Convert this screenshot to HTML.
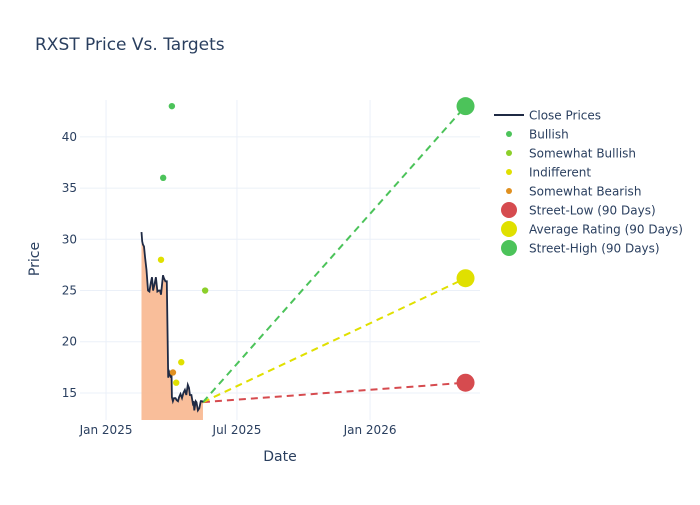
<!DOCTYPE html>
<html><head><meta charset="utf-8"><style>
body{margin:0;background:#fff;}
svg text{font-family:"DejaVu Sans","Liberation Sans",sans-serif;fill:#2a3f5f;}
</style></head><body>
<svg id="chart" width="700" height="500" xmlns="http://www.w3.org/2000/svg">
<rect width="700" height="500" fill="#fff"/>
<text x="35" y="50" font-size="17">RXST Price Vs. Targets</text>
<g id="grid"></g>
<g id="plot"></g>
<g id="axes"></g>
<text transform="translate(39,259) rotate(-90)" text-anchor="middle" font-size="14">Price</text>
<text x="280" y="461" text-anchor="middle" font-size="14">Date</text>
<g id="legend"></g>
</svg>
<script>
// days since 2025-01-01
const priceDays=[49,50,51,52.5,54,56,58,60,62,63.5,65,67,69,71,73,74.6,76,78.8,80,82,84,86,88,89.8,90.5,91,92.5,94,96,97.5,99.5,101,103,105,107,109,111,113,114.7,116,118,120,121,122,124,125,127,129,131,132.6,134];
const priceVals=[30.7,29.8,29.5,29.3,28.2,27,25,24.9,25.8,26.3,25,25.6,26.3,24.9,25,25,24.6,26.5,26.2,25.9,25.9,16.5,17,16.5,17,14.6,14.2,14.5,14.5,14.3,14.2,14.6,14.9,14.5,15,15.3,14.8,15.8,15.5,14.8,14.8,14,14.2,13.3,14.2,14.1,13.3,13.5,14.2,14.2,14.1];
const bullishDays=[91,79]; const bullishVals=[43,36];
const swBullishDays=[137]; const swBullishVals=[25];
const indiffDays=[76,104,97]; const indiffVals=[28,18,16];
const swBearishDays=[92.5]; const swBearishVals=[17];
const targetDay=497;
const targetLow=16, targetAvg=26.2, targetHigh=43;
const yTicks=[15,20,25,30,35,40];
const xTickDays=[0,181,365];
const xTickLabels=["Jan 2025","Jul 2025","Jan 2026"];

const L=80,R=480,T=100,B=420;
const xMin=-36,xMax=517,yMin=12.36,yMax=43.6;
const X=d=>L+(d-xMin)/(xMax-xMin)*(R-L);
const Y=v=>B-(v-yMin)/(yMax-yMin)*(B-T);
const NS="http://www.w3.org/2000/svg";
function mk(parent,tag,attrs){const e=document.createElementNS(NS,tag);for(const k in attrs)e.setAttribute(k,attrs[k]);document.getElementById(parent).appendChild(e);return e;}

yTicks.forEach(v=>{
  const g=mk('grid','line',{x1:L,x2:R,y1:Y(v),y2:Y(v),stroke:'#ebf0f8','stroke-width':1});
  
  
  const t=mk('axes','text',{x:L-3,y:Y(v)+4,'text-anchor':'end','font-size':12});
  t.textContent=v;
  
  
});
xTickDays.forEach((d,i)=>{
  const g=mk('grid','line',{x1:X(d),x2:X(d),y1:T,y2:B,stroke:'#ebf0f8','stroke-width':1});
  
  
  const t=mk('axes','text',{x:X(d),y:B+14,'text-anchor':'middle','font-size':12});
  t.textContent=xTickLabels[i];
  
  
});

// area fill
let pts=priceDays.map((d,i)=>X(d).toFixed(1)+','+Y(priceVals[i]).toFixed(1));
const area=mk('plot','polygon',{points:X(priceDays[0])+','+B+' '+pts.join(' ')+' '+X(priceDays[priceDays.length-1])+','+B,fill:'#f9bb95',opacity:0.95});



// target lines
const lastD=priceDays[priceDays.length-1], lastV=priceVals[priceVals.length-1];
[[targetLow,'#d64b4f','street-low-line'],[targetAvg,'#e0e000','average-rating-line'],[targetHigh,'#4cc35a','street-high-line']].forEach(([v,c,n])=>{
  const l=mk('plot','line',{x1:X(lastD),y1:Y(lastV),x2:X(targetDay),y2:Y(v),stroke:c,'stroke-width':2,'stroke-dasharray':'7,5'});
  
  
});

const line=mk('plot','polyline',{points:pts.join(' '),fill:'none',stroke:'#1f2a44','stroke-width':1.8});



function dots(days,vals,c,n){days.forEach((d,i)=>{
  const e=mk('plot','circle',{cx:X(d),cy:Y(vals[i]),r:3.2,fill:c});
  
  
});}
dots(bullishDays,bullishVals,'#4cc35a','bullish-rating');
dots(swBullishDays,swBullishVals,'#8ccf2a','somewhat-bullish-rating');
dots(indiffDays,indiffVals,'#e0e000','indifferent-rating');
dots(swBearishDays,swBearishVals,'#e0901f','somewhat-bearish-rating');

[[targetLow,'#d64b4f','street-low-marker'],[targetAvg,'#e0e000','average-rating-marker'],[targetHigh,'#4cc35a','street-high-marker']].forEach(([v,c,n])=>{
  const e=mk('plot','circle',{cx:X(targetDay),cy:Y(v),r:9,fill:c});
  
  
});

// legend
const legItems=[['line','#1f2a44','Close Prices'],['s','#4cc35a','Bullish'],['s','#8ccf2a','Somewhat Bullish'],['s','#e0e000','Indifferent'],['s','#e0901f','Somewhat Bearish'],['b','#d64b4f','Street-Low (90 Days)'],['b','#e0e000','Average Rating (90 Days)'],['b','#4cc35a','Street-High (90 Days)']];
legItems.forEach((it,i)=>{
  const y=115+i*19;
  let sym;
  if(it[0]==='line') sym=mk('legend','line',{x1:494,x2:524,y1:y,y2:y,stroke:it[1],'stroke-width':2});
  else sym=mk('legend','circle',{cx:509,cy:y,r:it[0]==='s'?3:8,fill:it[1]});
  
  
  const t=mk('legend','text',{x:529,y:y+4.5,'font-size':12});
  t.textContent=it[2];
  
  
});
</script>
</body></html>
